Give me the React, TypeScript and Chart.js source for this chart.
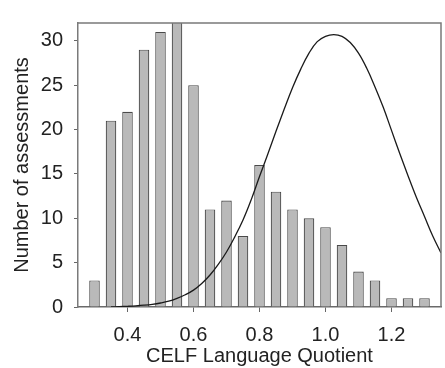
import React, { useEffect, useRef } from "react";
import { Chart, registerables } from "chart.js";

Chart.register(...registerables);

// Histogram bins (bin centres) and counts
const binCentres = [0.30, 0.35, 0.40, 0.45, 0.50, 0.55, 0.60, 0.65, 0.70, 0.75, 0.80, 0.85, 0.90, 0.95, 1.00, 1.05, 1.10, 1.15, 1.20, 1.25, 1.30];
const counts = [3, 21, 22, 29, 31, 33, 25, 11, 12, 8, 16, 13, 11, 10, 9, 7, 4, 3, 1, 1, 1];

// Overlay curve
const curveX = [0.35, 0.375, 0.40, 0.425, 0.45, 0.475, 0.50, 0.525, 0.55, 0.575, 0.60, 0.625, 0.65, 0.675, 0.70, 0.725, 0.75, 0.775, 0.80, 0.825, 0.85, 0.875, 0.90, 0.925, 0.95, 0.975, 1.00, 1.025, 1.05, 1.075, 1.10, 1.125, 1.15, 1.175, 1.20, 1.225, 1.25, 1.275, 1.30, 1.325, 1.35];
const curveY = [0.0, 0.04, 0.08, 0.13, 0.2, 0.3, 0.45, 0.66, 0.98, 1.38, 1.9, 2.65, 3.6, 4.8, 6.2, 7.9, 9.8, 12.1, 14.7, 17.2, 19.8, 22.3, 24.7, 26.8, 28.6, 29.9, 30.5, 30.7, 30.5, 29.8, 28.6, 26.9, 24.8, 22.5, 19.9, 17.3, 14.8, 12.4, 10.2, 8.0, 6.1];

const xTickValues = [0.4, 0.6, 0.8, 1.0, 1.2];
const yTickValues = [0, 5, 10, 15, 20, 25, 30];

const xTitle = "CELF Language Quotient";
const yTitle = "Number of assessments";

const framePlugin = {
  id: "frame",
  afterDraw(chart: any) {
    const { ctx, chartArea } = chart;
    ctx.save();
    ctx.strokeStyle = "#7a7a7a";
    ctx.lineWidth = 1.5;
    ctx.beginPath();
    ctx.moveTo(chartArea.left, chartArea.top);
    ctx.lineTo(chartArea.right, chartArea.top);
    ctx.lineTo(chartArea.right, chartArea.bottom);
    ctx.stroke();
    ctx.restore();
  },
};

export default function App() {
  const ref = useRef<HTMLCanvasElement | null>(null);

  useEffect(() => {
    if (!ref.current) return;
    Chart.defaults.font.family = "'Liberation Sans', Arial, sans-serif";
    Chart.defaults.color = "#222";
    const chart = new Chart(ref.current, {
      type: "bar",
      data: {
        datasets: [
          {
            type: "line",
            data: curveX.map((x, i) => ({ x, y: curveY[i] })),
            borderColor: "#1a1a1a",
            borderWidth: 1.3,
            pointRadius: 0,
            tension: 0.4,
            fill: false,
            order: 0,
          } as any,
          {
            type: "bar",
            data: binCentres.map((x, i) => ({ x, y: counts[i] })),
            backgroundColor: "#b9b9b9",
            borderColor: "#4a4a4a",
            borderWidth: 1.2,
            barPercentage: 0.8,
            categoryPercentage: 0.8,
            order: 1,
          } as any,
        ],
      },
      options: {
        animation: false,
        responsive: false,
        maintainAspectRatio: false,
        layout: { padding: { top: 8, right: 4, left: 0, bottom: 0 } },
        plugins: { legend: { display: false }, tooltip: { enabled: false } },
        scales: {
          x: {
            type: "linear",
            min: 0.25,
            max: 1.35,
            offset: false,
            afterBuildTicks: (axis: any) => {
              axis.ticks = xTickValues.map((v) => ({ value: v }));
            },
            afterFit: (scale: any) => {
              scale.height = 61;
            },
            grid: { display: true, drawOnChartArea: false, drawTicks: true, tickLength: 5, color: "#666", offset: false },
            border: { display: true, color: "#6a6a6a", width: 1.5 },
            ticks: {
              padding: 11,
              maxRotation: 0,
              autoSkip: false,
              font: { size: 20 },
              color: "#222",
              callback: (v: any) => Number(v).toFixed(1),
            },
            title: {
              display: true,
              text: xTitle,
              font: { size: 20, lineHeight: 1.2 },
              color: "#222",
              padding: { top: 0, bottom: 0 },
            },
          },
          y: {
            type: "linear",
            min: 0,
            max: 32,
            afterBuildTicks: (axis: any) => {
              axis.ticks = yTickValues.map((v) => ({ value: v }));
            },
            afterFit: (scale: any) => {
              scale.width = 78;
            },
            grid: { display: true, drawOnChartArea: false, drawTicks: true, tickLength: 4, color: "#666" },
            border: { display: true, color: "#7a7a7a", width: 1.5 },
            ticks: { padding: 11, font: { size: 20 }, color: "#222", autoSkip: false },
            title: {
              display: true,
              text: yTitle,
              font: { size: 20, lineHeight: 1.2 },
              color: "#222",
              padding: { top: 10, bottom: 0 },
            },
          },
        },
      },
      plugins: [framePlugin],
    });
    return () => chart.destroy();
  }, []);

  return (
    <div style={{ position: "fixed", left: 0, top: 0, width: 445, height: 368, background: "#fff" }}>
      <canvas ref={ref} width={445} height={368} style={{ width: 445, height: 368 }} />
    </div>
  );
}
